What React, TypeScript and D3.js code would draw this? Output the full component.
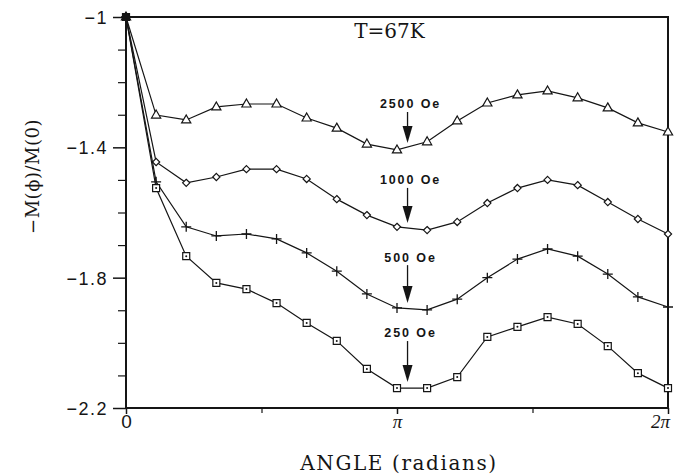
import * as d3 from "d3";
import { useEffect, useRef } from "react";

// angle of each measurement, degrees
const angles = [0, 20, 40, 60, 80, 100, 120, 140, 160, 180, 200, 220, 240, 260, 280, 300, 320, 340, 360];

const field2500 = [-1, -1.301, -1.316, -1.276, -1.267, -1.267, -1.31, -1.341, -1.39, -1.408, -1.383, -1.319, -1.264, -1.239, -1.227, -1.248, -1.279, -1.325, -1.353];
const field1000 = [-1, -1.445, -1.509, -1.491, -1.467, -1.467, -1.497, -1.559, -1.608, -1.644, -1.654, -1.629, -1.571, -1.525, -1.5, -1.516, -1.568, -1.62, -1.666];
const field500 = [-1, -1.506, -1.644, -1.672, -1.666, -1.681, -1.724, -1.78, -1.85, -1.893, -1.899, -1.866, -1.8, -1.743, -1.712, -1.734, -1.789, -1.859, -1.89];
const field250 = [-1, -1.525, -1.734, -1.816, -1.835, -1.878, -1.939, -1.994, -2.08, -2.139, -2.139, -2.105, -1.982, -1.951, -1.921, -1.942, -2.01, -2.093, -2.139];

const seriesNames = ["2500 Oe", "1000 Oe", "500 Oe", "250 Oe"];
const seriesValues = [field2500, field1000, field500, field250];
const seriesMarkers = ["triangle", "diamond", "plus", "square"];

// annotation: label height and arrow tip, in data units; arrow angle in degrees
const labelY = [-1.267, -1.5, -1.737, -1.97];
const arrowTipY = [-1.387, -1.632, -1.878, -2.12];
const arrowAngle = 187;

const yTicks = [-1, -1.4, -1.8, -2.2];
const yMinorTicks = [-1.1, -1.2, -1.3, -1.5, -1.6, -1.7, -1.9, -2.0, -2.1];
const xTicks = [0, Math.PI, 2 * Math.PI];
const xTickLabels = ["0", "π", "2π"];
const xMinorTicks = [Math.PI / 2, (3 * Math.PI) / 2];

const W = 681;
const H = 475;
const margin = { left: 126, right: 13, top: 17, bottom: 67 };

export default function App() {
  const svgRef = useRef<SVGSVGElement>(null);

  useEffect(() => {
    const width = W - margin.left - margin.right;
    const height = H - margin.top - margin.bottom;
    const ink = "#151515";

    const x = d3.scaleLinear().domain([0, 2 * Math.PI]).range([0, width]);
    const y = d3.scaleLinear().domain([-2.2, -1]).range([height, 0]);
    const rad = (deg: number) => (deg * Math.PI) / 180;

    const svgEl = d3.select(svgRef.current);
    svgEl.selectAll("*").remove();
    const svg = svgEl.append("g").attr("transform", `translate(${margin.left},${margin.top})`);

    // frame
    svg
      .append("rect")
      .attr("width", width)
      .attr("height", height)
      .attr("fill", "none")
      .attr("stroke", ink)
      .attr("stroke-width", 2);

    // y axis
    const yAxis = d3.axisLeft(y).tickValues(yTicks).tickSize(13).tickFormat((v) => `−${Math.abs(+v)}`);
    const yg = svg.append("g").call(yAxis);
    yg.select(".domain").remove();
    yg.selectAll("line").attr("stroke", ink).attr("stroke-width", 1.5);
    yg.selectAll("text")
      .attr("fill", ink)
      .style("font-family", "Liberation Sans, Arial, sans-serif")
      .style("font-size", "18px")
      .attr("letter-spacing", 1.5)
      .attr("dx", -2)
      .attr("dy", "0.36em");
    const yMinor = d3.axisLeft(y).tickValues(yMinorTicks).tickSize(8).tickFormat(() => "");
    const ymg = svg.append("g").call(yMinor);
    ymg.select(".domain").remove();
    ymg.selectAll("line").attr("stroke", ink).attr("stroke-width", 1.2);

    // x axis
    const xAxis = d3
      .axisBottom(x)
      .tickValues(xTicks)
      .tickSize(6)
      .tickFormat((_, i) => xTickLabels[i]);
    const xg = svg.append("g").attr("transform", `translate(0,${height})`).call(xAxis);
    xg.select(".domain").remove();
    xg.selectAll("line").attr("stroke", ink).attr("stroke-width", 1.5);
    xg.selectAll("text")
      .attr("fill", ink)
      .style("font-family", (_, i) => (i === 0 ? "Liberation Sans, Arial, sans-serif" : "Liberation Serif, serif"))
      .style("font-style", (_, i) => (i === 0 ? "normal" : "italic"))
      .style("font-size", "19px")
      .attr("dy", "0.6em")
      .attr("dx", (_, i) => (i === 2 ? -8 : 0));
    const xMinor = d3.axisBottom(x).tickValues(xMinorTicks).tickSize(5).tickFormat(() => "");
    const xmg = svg.append("g").attr("transform", `translate(0,${height})`).call(xMinor);
    xmg.select(".domain").remove();
    xmg.selectAll("line").attr("stroke", ink).attr("stroke-width", 1.2);

    // axis titles
    svg
      .append("text")
      .attr("x", width / 2 + 2)
      .attr("y", height + 62)
      .attr("text-anchor", "middle")
      .attr("font-family", "DejaVu Serif, serif")
      .attr("font-size", 20)
      .attr("letter-spacing", 1.6)
      .attr("fill", ink)
      .text("ANGLE (radians)");

    svg
      .append("text")
      .attr("transform", `translate(${-margin.left + 39},${height / 2 - 36}) rotate(-90)`)
      .attr("text-anchor", "middle")
      .attr("font-family", "DejaVu Serif, serif")
      .attr("font-size", 18)
      .attr("letter-spacing", 0.5)
      .attr("fill", ink)
      .text("−M(ϕ)/M(0)");

    svg
      .append("text")
      .attr("x", x(rad(175)))
      .attr("y", y(-1.063))
      .attr("text-anchor", "middle")
      .attr("font-family", "DejaVu Serif, serif")
      .attr("font-size", 20)
      .attr("fill", ink)
      .text("T=67K");

    // series lines and markers
    const line = d3
      .line<number>()
      .x((_, i) => x(rad(angles[i])))
      .y((v) => y(v));

    seriesValues.forEach((vals, s) => {
      const kind = seriesMarkers[s];
      svg
        .append("path")
        .datum(vals)
        .attr("d", line)
        .attr("fill", "none")
        .attr("stroke", ink)
        .attr("stroke-width", 1.2);

      const pts = svg
        .append("g")
        .selectAll("g")
        .data(vals)
        .join("g")
        .attr("transform", (v, i) => `translate(${x(rad(angles[i]))},${y(v)})`);

      if (kind === "plus") {
        pts.append("path").attr("d", "M-5,0H5M0,-5V5").attr("stroke", ink).attr("stroke-width", 1.3);
      } else {
        const shape =
          kind === "triangle"
            ? "M0,-5L4.6,3L-4.6,3Z"
            : kind === "diamond"
            ? "M0,-3.6L3.6,0L0,3.6L-3.6,0Z"
            : "M-3.5,-3.5H3.5V3.5H-3.5Z";
        pts
          .append("path")
          .attr("d", shape)
          .attr("fill", "white")
          .attr("stroke", ink)
          .attr("stroke-width", 1.2);
        if (kind === "square") {
          pts.append("circle").attr("r", 1).attr("fill", ink);
        }
      }

      // annotation label + arrow
      const ax = x(rad(arrowAngle));
      const ly = y(labelY[s]);
      const ty = y(arrowTipY[s]);
      svg
        .append("text")
        .attr("x", ax + 3)
        .attr("y", ly)
        .attr("dy", "0.35em")
        .attr("text-anchor", "middle")
        .attr("font-family", "Liberation Sans, Arial, sans-serif")
        .attr("font-weight", "bold")
        .attr("font-size", 12.5)
        .attr("letter-spacing", 1.9)
        .attr("fill", ink)
        .text(seriesNames[s]);
      svg
        .append("line")
        .attr("x1", ax)
        .attr("x2", ax)
        .attr("y1", ly + 8)
        .attr("y2", ty - 14)
        .attr("stroke", ink)
        .attr("stroke-width", 1.3);
      svg
        .append("path")
        .attr("d", `M${ax - 5},${ty - 17}L${ax + 5},${ty - 17}L${ax},${ty}Z`)
        .attr("fill", ink);
    });

    // filled cluster at origin
    svg
      .append("rect")
      .attr("x", x(0) - 3)
      .attr("y", y(-1) - 3)
      .attr("width", 6)
      .attr("height", 6)
      .attr("fill", ink);
  }, []);

  return (
    <div style={{ position: "fixed", left: 0, top: 0, background: "white" }}>
      <svg ref={svgRef} width={W} height={H} style={{ display: "block" }}></svg>
    </div>
  );
}
